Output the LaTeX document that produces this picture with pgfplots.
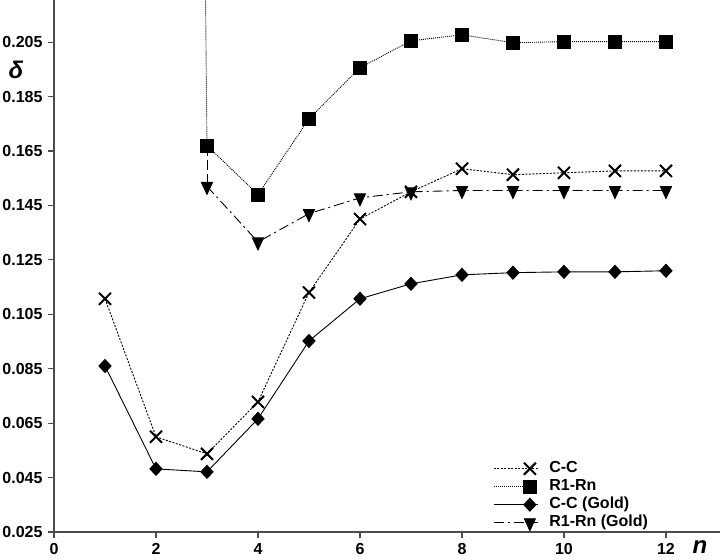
\documentclass[border=0pt]{standalone}
\usepackage{fontspec}
\setmainfont{Liberation Sans}
\usepackage{pgfplots}
\pgfplotsset{compat=1.18}

\begin{document}
\fontsize{16}{19}\selectfont
\begin{tikzpicture}
\useasboundingbox (-54pt,-27pt) rectangle (668pt,532pt);
\begin{axis}[
    at={(0pt,0pt)}, anchor=south west,
    scale only axis,
    width=666pt,
    height=532pt,
    xmin=0, xmax=13.06,
    ymin=0.025, ymax=0.2205,
    clip mode=individual,
    axis lines=left,
    axis line style={-, gray!60!black, line width=1.2pt},
    every tick/.style={gray!60!black, line width=1.2pt},
    tick align=outside,
    major tick length=6pt,
    xtick={0,2,4,6,8,10,12},
    ytick={0.025,0.045,0.065,0.085,0.105,0.125,0.145,0.165,0.185,0.205},
    /pgf/number format/assume math mode=true,
    tick label style={font=\fontsize{16}{19}\selectfont\bfseries},
    yticklabel style={/pgf/number format/.cd, fixed, fixed zerofill, precision=3},
    legend style={draw=none, fill=none, at={(0.655,0.14)}, anchor=north west,
                  font=\fontsize{16}{18}\selectfont\bfseries, row sep=0pt,
                  nodes={text height=11pt, text depth=3pt, inner ysep=2pt},
                  /tikz/every odd column/.append style={column sep=9pt}},
    legend cell align=left,
    legend image code/.code={\draw (0pt,0pt) -- (44pt,0pt);
        \draw plot coordinates {(36pt,0pt)};},
]
% C-C
\addplot[black, line width=0.9pt, dash pattern=on 2pt off 1.5pt, mark=x, mark size=8.5pt,
    mark options={solid, line width=2pt}] coordinates {
    (1,0.1107) (2,0.0600) (3,0.0537) (4,0.0728) (5,0.1130) (6,0.1400)
    (7,0.1500) (8,0.1585) (9,0.1563) (10,0.1570) (11,0.1577) (12,0.1577)
};
% R1-Rn
\addplot[black, line width=0.9pt, dash pattern=on 1pt off 1pt, mark=square*, mark size=6.5pt,
    mark options={solid}] coordinates {
    (3,0.1670) (4,0.1490) (5,0.1768) (6,0.1956) (7,0.2055) (8,0.2077)
    (9,0.2048) (10,0.2052) (11,0.2052) (12,0.2052)
};
% C-C (Gold)
\addplot[black, line width=0.9pt, mark=diamond*, mark size=6.5pt, mark options={solid, xscale=1.25}] coordinates {
    (1,0.0860) (2,0.0482) (3,0.0471) (4,0.0666) (5,0.0952) (6,0.1107)
    (7,0.1162) (8,0.1195) (9,0.1203) (10,0.1206) (11,0.1206) (12,0.1210)
};
% R1-Rn (Gold)
\addplot[black, line width=0.9pt, dash pattern=on 10pt off 4pt on 2pt off 4pt,
    mark=triangle*, mark size=8pt, mark options={solid, rotate=180, xscale=0.8}] coordinates {
    (3,0.1520) (4,0.1316) (5,0.1420) (6,0.1478) (7,0.1500) (8,0.1505)
    (9,0.1505) (10,0.1505) (11,0.1505) (12,0.1505)
};
% segments coming down from n=2 (off scale)
\addplot[forget plot, black, line width=0.9pt, dash pattern=on 10pt off 4pt] coordinates {
    (3,0.1670) (3,0.1520)
};
\addplot[forget plot, black, line width=0.9pt, dash pattern=on 1pt off 1pt] coordinates {
    (2.03,2.0) (3,0.1670)
};
\legend{C-C, R1-Rn, C-C (Gold), R1-Rn (Gold)}
\node[font=\fontsize{24}{26}\selectfont\bfseries\itshape] at (axis description cs:-0.057,0.868) {δ};
\node[font=\fontsize{24}{26}\selectfont\bfseries\itshape] at (axis description cs:0.97,-0.028) {n};
\end{axis}
\end{tikzpicture}
\end{document}
